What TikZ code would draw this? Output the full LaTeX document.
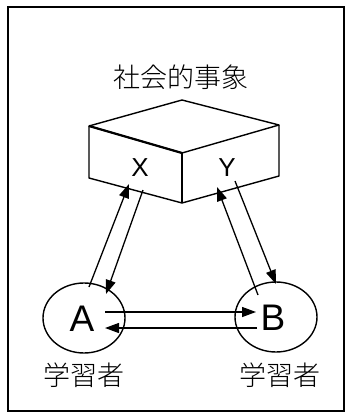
\documentclass[tikz,border=0pt]{standalone}
\usepackage{fontspec}
\setmainfont{Noto Sans CJK JP Light}
\newfontfamily\latinsans{Liberation Sans}
\usetikzlibrary{arrows.meta,shapes.geometric}
\begin{document}
\begin{tikzpicture}[x=1pt,y=-1pt,
  line/.style={line width=1.4pt},
  arr/.style={line width=1.3pt,-{Triangle[length=14pt,width=10pt]}},
  cjk/.style={font=\fontsize{27}{27}\selectfont,inner sep=0pt},
  letter/.style={font=\latinsans\fontsize{26}{26}\selectfont,inner sep=0pt},
  bigletter/.style={font=\latinsans\fontsize{37}{37}\selectfont,inner sep=0pt}]
\useasboundingbox (0,0) rectangle (350,417);
\draw[line width=1.8pt] (8,7) rectangle (344,411);
% title
\node[cjk] (title) at (181,77) {社会的事象};
% box
\coordinate (tt) at (182,100);
\coordinate (tl) at (89,126);
\coordinate (tr) at (279,125);
\coordinate (tf) at (182,153);
\coordinate (bl) at (89,178);
\coordinate (bf) at (182,203);
\coordinate (br) at (279,176);
\draw[line, line join=round] (tl) -- (tt) -- (tr) -- (tf) -- cycle;
\draw[line width=2.2pt] (tl) -- (tf);
\draw[line, line join=round] (tl) -- (bl) -- (bf) -- (br) -- (tr);
\draw[line] (tf) -- (bf);
\node[letter] (X) at (140,168) {X};
\node[letter] (Y) at (227,168) {Y};
% learners
\node[draw,line,ellipse,minimum width=82pt,minimum height=70pt,inner sep=0pt] (A) at (84,318) {};
\node[draw,line,ellipse,minimum width=82pt,minimum height=70pt,inner sep=0pt] (B) at (276,317) {};
\node[bigletter] (Alab) at (82,319) {A};
\node[bigletter] (Blab) at (273,318) {B};
\node[cjk] (LA) at (84,375) {学習者};
\node[cjk] (LB) at (280,375) {学習者};
% arrow endpoints
\coordinate (a1) at (89,287);
\coordinate (x1) at (129,184);
\coordinate (x2) at (143,190);
\coordinate (a2) at (106,294);
\coordinate (b1) at (258,295);
\coordinate (y1) at (217,187);
\coordinate (y2) at (235,181);
\coordinate (b2) at (276,284);
\coordinate (ha1) at (105,312);
\coordinate (hb1) at (256,312);
\coordinate (hb2) at (257,328);
\coordinate (ha2) at (105,328);
\draw[arr] (a1) -- (x1);
\draw[arr] (x2) -- (a2);
\draw[arr] (b1) -- (y1);
\draw[arr] (y2) -- (b2);
\draw[arr] (ha1) -- (hb1);
\draw[arr] (hb2) -- (ha2);
\end{tikzpicture}
\end{document}
